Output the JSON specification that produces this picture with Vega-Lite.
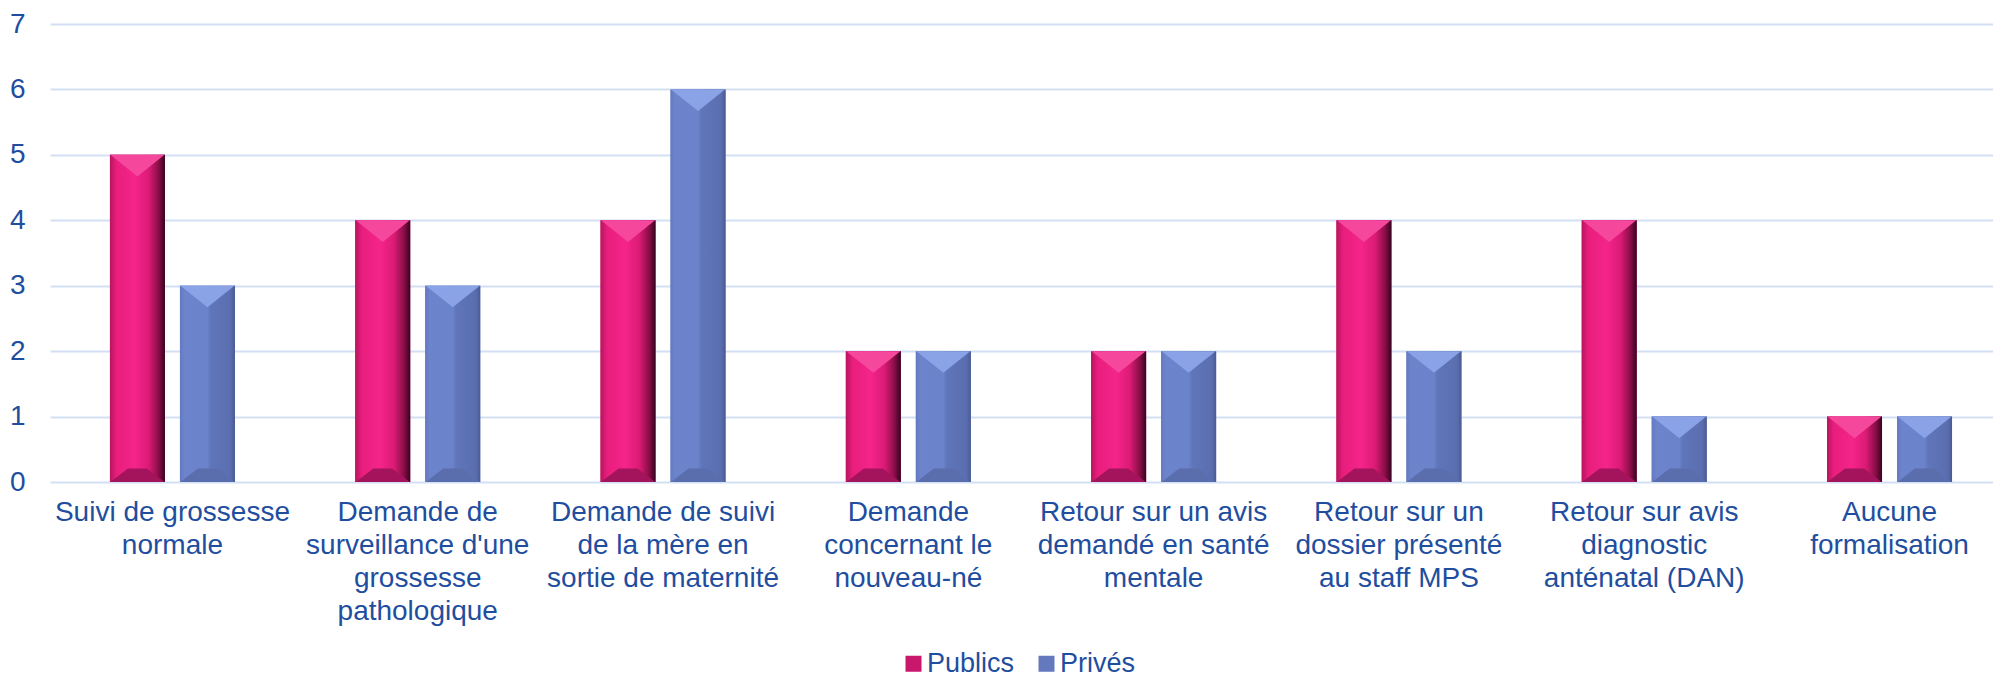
{
  "$schema": "https://vega.github.io/schema/vega-lite/v6.json",
  "width": 1943,
  "height": 458,
  "autosize": {"type": "none"},
  "padding": {"left": 50, "top": 24, "right": 0, "bottom": 195},
  "background": "white",
  "config": {
    "view": {"stroke": null},
    "font": "Liberation Sans"
  },
  "data": {
    "values": [
      {"categorie": "Suivi de grossesse normale", "secteur": "Publics", "valeur": 5},
      {"categorie": "Suivi de grossesse normale", "secteur": "Privés", "valeur": 3},
      {"categorie": "Demande de surveillance d'une grossesse pathologique", "secteur": "Publics", "valeur": 4},
      {"categorie": "Demande de surveillance d'une grossesse pathologique", "secteur": "Privés", "valeur": 3},
      {"categorie": "Demande de suivi de la mère en sortie de maternité", "secteur": "Publics", "valeur": 4},
      {"categorie": "Demande de suivi de la mère en sortie de maternité", "secteur": "Privés", "valeur": 6},
      {"categorie": "Demande concernant le nouveau-né", "secteur": "Publics", "valeur": 2},
      {"categorie": "Demande concernant le nouveau-né", "secteur": "Privés", "valeur": 2},
      {"categorie": "Retour sur un avis demandé en santé mentale", "secteur": "Publics", "valeur": 2},
      {"categorie": "Retour sur un avis demandé en santé mentale", "secteur": "Privés", "valeur": 2},
      {"categorie": "Retour sur un dossier présenté au staff MPS", "secteur": "Publics", "valeur": 4},
      {"categorie": "Retour sur un dossier présenté au staff MPS", "secteur": "Privés", "valeur": 2},
      {"categorie": "Retour sur avis diagnostic anténatal (DAN)", "secteur": "Publics", "valeur": 4},
      {"categorie": "Retour sur avis diagnostic anténatal (DAN)", "secteur": "Privés", "valeur": 1},
      {"categorie": "Aucune formalisation", "secteur": "Publics", "valeur": 1},
      {"categorie": "Aucune formalisation", "secteur": "Privés", "valeur": 1}
    ]
  },
  "encoding": {
    "x": {
      "field": "categorie",
      "type": "nominal",
      "sort": null,
      "scale": {"paddingInner": 0.4904, "paddingOuter": 0.2057, "align": 0.594},
      "axis": {
        "title": null,
        "labelAngle": 0,
        "labelFontSize": 28,
        "labelFont": "Liberation Sans",
        "labelColor": "#1F4E9F",
        "labelLineHeight": 33,
        "labelPadding": 16,
        "labelLimit": 0,
        "labelOverlap": false,
        "labelBound": false,
        "ticks": false,
        "domain": false,
        "labelExpr": "{'Suivi de grossesse normale': ['Suivi de grossesse', 'normale'], 'Demande de surveillance d\\'une grossesse pathologique': ['Demande de', 'surveillance d\\'une', 'grossesse', 'pathologique'], 'Demande de suivi de la mère en sortie de maternité': ['Demande de suivi', 'de la mère en', 'sortie de maternité'], 'Demande concernant le nouveau-né': ['Demande', 'concernant le', 'nouveau-né'], 'Retour sur un avis demandé en santé mentale': ['Retour sur un avis', 'demandé en santé', 'mentale'], 'Retour sur un dossier présenté au staff MPS': ['Retour sur un', 'dossier présenté', 'au staff MPS'], 'Retour sur avis diagnostic anténatal (DAN)': ['Retour sur avis', 'diagnostic', 'anténatal (DAN)'], 'Aucune formalisation': ['Aucune', 'formalisation']}[datum.value]"
      }
    },
    "xOffset": {
      "field": "secteur",
      "type": "nominal",
      "sort": ["Publics", "Privés"],
      "scale": {"paddingInner": 0.2143, "paddingOuter": 0}
    },
    "y": {
      "field": "valeur",
      "type": "quantitative",
      "scale": {"domain": [0, 7], "nice": false},
      "axis": {
        "title": null,
        "values": [0, 1, 2, 3, 4, 5, 6, 7],
        "labelFontSize": 28,
        "labelFont": "Liberation Sans",
        "labelColor": "#1F4E9F",
        "labelPadding": 25,
        "ticks": false,
        "domain": false,
        "gridColor": "#D3DFF3",
        "gridWidth": 2
      }
    }
  },
  "layer": [
    {
      "mark": {"type": "bar"},
      "encoding": {
        "color": {
          "field": "secteur",
          "type": "nominal",
          "sort": ["Publics", "Privés"],
          "scale": {"domain": ["Publics", "Privés"], "range": ["#C8176C", "#6478BE"]},
          "legend": {
            "title": null,
            "orient": "none",
            "legendX": 850,
            "legendY": 626,
            "direction": "horizontal",
            "symbolType": "square",
            "symbolSize": 256,
            "symbolStrokeWidth": 0,
            "labelFontSize": 27,
            "labelFont": "Liberation Sans",
            "labelColor": "#1F4E9F",
            "labelOffset": 0,
            "columnPadding": 18
          }
        }
      }
    },
    {
      "transform": [{"filter": "datum.secteur === 'Publics'"}],
      "mark": {
        "type": "bar",
        "fill": {
          "gradient": "linear",
          "x1": 0, "y1": 0, "x2": 1, "y2": 0,
          "stops": [
            {"offset": 0, "color": "#B8145F"},
            {"offset": 0.12, "color": "#E81E7D"},
            {"offset": 0.45, "color": "#F5248A"},
            {"offset": 0.7, "color": "#DC1B76"},
            {"offset": 0.88, "color": "#8C0E48"},
            {"offset": 1, "color": "#360420"}
          ]
        }
      }
    },
    {
      "transform": [{"filter": "datum.secteur === 'Privés'"}],
      "mark": {
        "type": "bar",
        "fill": {
          "gradient": "linear",
          "x1": 0, "y1": 0, "x2": 1, "y2": 0,
          "stops": [
            {"offset": 0, "color": "#6479BF"},
            {"offset": 0.08, "color": "#6C84CC"},
            {"offset": 0.5, "color": "#6B83CB"},
            {"offset": 0.56, "color": "#6076BA"},
            {"offset": 0.92, "color": "#5A6EAF"},
            {"offset": 1, "color": "#4A5A92"}
          ]
        }
      }
    },
    {
      "mark": {
        "type": "point",
        "filled": true,
        "opacity": 1,
        "strokeWidth": 0,
        "size": 2916,
        "shape": "M-1,0L1,0L0,0.8Z"
      },
      "encoding": {
        "fill": {
          "condition": {"test": "datum.secteur === 'Publics'", "value": "#F5489C"},
          "value": "#8AA2E6"
        }
      }
    },
    {
      "mark": {
        "type": "point",
        "filled": true,
        "opacity": 1,
        "strokeWidth": 0,
        "size": 2916,
        "shape": "M-1,0L1,0L0.35,-0.5L-0.35,-0.5Z"
      },
      "encoding": {
        "y": {"datum": 0, "type": "quantitative"},
        "fill": {
          "condition": {"test": "datum.secteur === 'Publics'", "value": "#A3145D"},
          "value": "#5A6DAD"
        }
      }
    }
  ]
}
